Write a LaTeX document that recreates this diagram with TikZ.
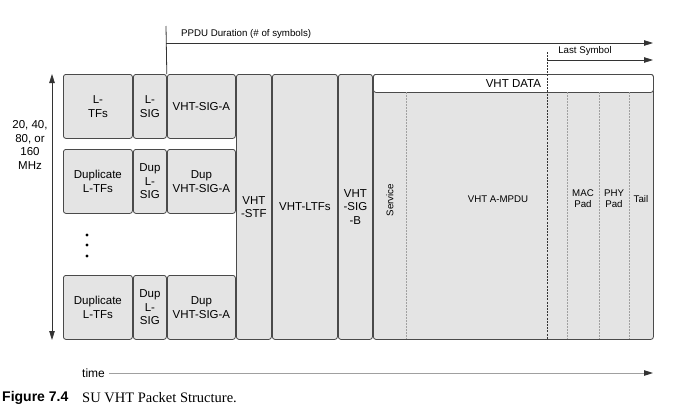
\documentclass[tikz,border=0pt]{standalone}
\usepackage{fontspec}
\setmainfont{Liberation Sans}
\newfontfamily\capserif{Liberation Serif}
\usetikzlibrary{arrows.meta}
\definecolor{fieldgray}{HTML}{E4E4E4}
\definecolor{edgegray}{HTML}{4A4A4A}
\definecolor{sepgray}{HTML}{A0A0A0}
\definecolor{linegray}{HTML}{333333}
\tikzset{
  field/.style={draw=edgegray, fill=fieldgray, line width=0.8pt, rounded corners=2.5pt,
    anchor=north west, inner sep=0pt, align=center, font=\fontsize{11.5}{13.5}\selectfont},
  small/.style={inner sep=0pt, align=center, font=\fontsize{9.7}{10.8}\selectfont},
  tip/.style={-{Triangle[length=9pt,width=5.5pt,color=linegray]}},
  sep/.style={draw=sepgray, line width=0.8pt, dash pattern=on 2pt off 1pt},
}
\begin{document}
\begin{tikzpicture}[x=1pt,y=-1pt]
    \useasboundingbox (0,0) rectangle (677,418);
    % legacy part, one row per 20 MHz
    \node[field, minimum width=69pt, minimum height=64pt] (ltf1) at (63,74) {L-\\TFs};
    \node[field, minimum width=33pt, minimum height=64pt] (lsig1) at (133,74) {L-\\SIG};
    \node[field, minimum width=68pt, minimum height=64pt] (siga1) at (167,74) {VHT-SIG-A};
    \node[field, minimum width=69pt, minimum height=64pt] (ltf2) at (63,149) {Duplicate\\L-TFs};
    \node[field, minimum width=33pt, minimum height=64pt] (lsig2) at (133,149) {Dup\\L-\\SIG};
    \node[field, minimum width=68pt, minimum height=64pt] (siga2) at (167,149) {Dup\\VHT-SIG-A};
    \node[field, minimum width=69pt, minimum height=64pt] (ltf3) at (63,275) {Duplicate\\L-TFs};
    \node[field, minimum width=33pt, minimum height=64pt] (lsig3) at (133,275) {Dup\\L-\\SIG};
    \node[field, minimum width=68pt, minimum height=64pt] (siga3) at (167,275) {Dup\\VHT-SIG-A};
    \foreach \y in {235,245,256}
        \fill[black] (87,\y) circle (1.6pt);
    % VHT part
    \node[field, minimum width=35pt, minimum height=265pt] (stf) at (236,74) {VHT\\-STF};
    \node[field, minimum width=65pt, minimum height=265pt] (ltfs) at (272,74) {VHT-LTFs};
    \node[field, minimum width=34pt, minimum height=265pt] (sigb) at (338,74) {VHT\\-SIG\\-B};
    \node[field, minimum width=280pt, minimum height=265pt] (data) at (373,74) {};
    \node[field, fill=white, minimum width=280pt, minimum height=18pt] (datahdr) at (373,74) {VHT DATA};
    \draw[sep] (406,92) -- (406,339);
    \draw[sep] (567,92) -- (567,339);
    \draw[sep] (599,92) -- (599,339);
    \draw[sep] (629,92) -- (629,339);
    \node[small, rotate=90] (service) at (390,200) {Service};
    \node[small] (ampdu) at (498,199) {VHT A-MPDU};
    \node[small] (macpad) at (583,199) {MAC\\Pad};
    \node[small] (phypad) at (614,199) {PHY\\Pad};
    \node[small] (tail) at (641,199) {Tail};
    % durations
    \coordinate (ppdutop) at (166,26);
    \coordinate (ppdufork) at (166,43);
    \coordinate (ppduend) at (653,43);
    \draw[linegray, line width=0.8pt] (ppdutop) -- (lsig1.north east);
    \draw[linegray, line width=0.8pt, tip] (ppdufork) -- (ppduend);
    \node[small, anchor=west] (ppdulabel) at (181,34) {PPDU Duration (\# of symbols)};
    \coordinate (lasttop) at (547,52);
    \coordinate (lastfork) at (547,60);
    \coordinate (lastend) at (653,60);
    \draw[linegray, line width=0.7pt, dash pattern=on 2pt off 1.2pt] (lasttop) -- (lasttop |- data.south);
    \draw[linegray, line width=0.8pt, tip] (lastfork) -- (lastend);
    \node[small] (lastlabel) at (585,51) {Last Symbol};
    % bandwidth
    \coordinate (bwtop) at (52,74);
    \coordinate (bwbot) at (52,340);
    \draw[linegray, line width=0.8pt, {Triangle[length=9pt,width=5.5pt]}-{Triangle[length=9pt,width=5.5pt]}] (bwtop) -- (bwbot);
    \node[inner sep=0pt, align=center, font=\fontsize{11.5}{13.5}\selectfont] (bwlabel) at (30,145) {20, 40,\\80, or\\160\\MHz};
    % time axis
    \node[inner sep=0pt, anchor=west, font=\fontsize{12}{13}\selectfont] (timelabel) at (82,373) {time};
    \coordinate (timeend) at (653,373);
    \draw[sepgray, line width=0.9pt, tip] ([xshift=4pt]timelabel.east) -- (timeend);
    % caption
    \node[anchor=west, inner sep=0pt, font=\fontsize{14}{16}\bfseries] (figno) at (2,398) {Figure 7.4};
    \node[anchor=west, inner sep=0pt, font=\capserif\fontsize{14.5}{16}\selectfont] (figcap) at (82,398) {SU VHT Packet Structure.};
\end{tikzpicture}
\end{document}
